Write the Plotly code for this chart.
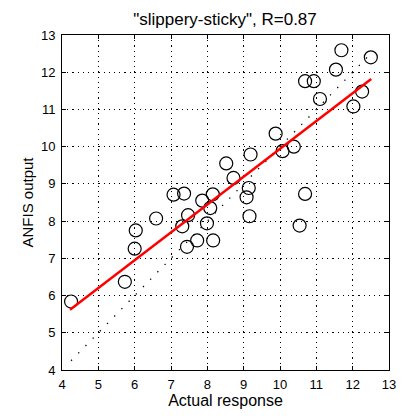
import plotly.graph_objects as go

# Data
actual = [4.25, 5.73, 6.00, 6.03, 6.59, 7.07, 7.36, 7.47, 7.31, 7.44, 7.72, 7.86,
          8.15, 8.08, 7.99, 8.16, 8.52, 8.72, 9.19, 9.14, 9.08, 9.16, 9.88, 10.07,
          10.38, 10.69, 10.54, 10.69, 10.93, 11.10, 11.54, 11.69, 12.50, 12.26, 12.02]
anfis = [5.84, 6.37, 7.26, 7.75, 8.07, 8.71, 8.74, 8.16, 7.86, 7.31, 7.48, 8.55,
         8.72, 8.35, 7.94, 7.48, 9.55, 9.16, 9.79, 8.89, 8.64, 8.13, 10.35, 9.88,
         10.00, 8.73, 7.88, 11.76, 11.76, 11.28, 12.07, 12.59, 12.40, 11.48, 11.08]
fit_x = [4.22, 12.51]
fit_y = [5.62, 11.82]
diag_x = [4.25, 12.5]
diag_y = [4.25, 12.5]
ticks = [4, 5, 6, 7, 8, 9, 10, 11, 12, 13]
title_text = '"slippery-sticky", R=0.87'

FONT = "Liberation Sans, Arial, sans-serif"

fig = go.Figure()
fig.add_trace(go.Scatter(x=diag_x, y=diag_y, mode="lines",
                         line=dict(color="black", width=1.3, dash="1.3px,9px"),
                         showlegend=False, hoverinfo="skip"))
fig.add_trace(go.Scatter(x=actual, y=anfis, mode="markers",
                         marker=dict(symbol="circle-open", size=13,
                                     color="black", line=dict(width=1.2, color="black")),
                         showlegend=False))
fig.add_trace(go.Scatter(x=fit_x, y=fit_y, mode="lines",
                         line=dict(color="#ff0000", width=2.5),
                         showlegend=False))

axis_common = dict(
    range=[4, 13], tickvals=ticks, ticktext=[str(t) for t in ticks],
    showgrid=True, gridcolor="black", gridwidth=1, griddash="1.2px,4px",
    showline=True, linecolor="black", linewidth=1, mirror="ticks",
    ticks="inside", ticklen=4, tickcolor="black", tickwidth=1,
    zeroline=False, tickfont=dict(family=FONT, size=13, color="black"),
    ticklabeloverflow="allow",
)

fig.update_layout(
    width=403, height=419,
    margin=dict(l=62, r=7, t=35, b=49),
    paper_bgcolor="white", plot_bgcolor="white",
    font=dict(family=FONT, color="black"),
    title=dict(text=title_text, x=225 / 403, xanchor="center",
               y=1 - 19 / 419, yanchor="middle", yref="container",
               font=dict(family=FONT, size=17, color="black")),
    xaxis=dict(axis_common, ticklabelstandoff=2,
               title=dict(text="Actual response", standoff=3,
                          font=dict(family=FONT, size=16, color="black"))),
    yaxis=dict(axis_common, ticklabelstandoff=3,
               title=dict(text="ANFIS output", standoff=3,
                          font=dict(family=FONT, size=15, color="black"))),
)

fig.write_html("out.html", config={"displayModeBar": False},
               post_script="document.body.style.margin='0';document.body.style.overflow='hidden';")
